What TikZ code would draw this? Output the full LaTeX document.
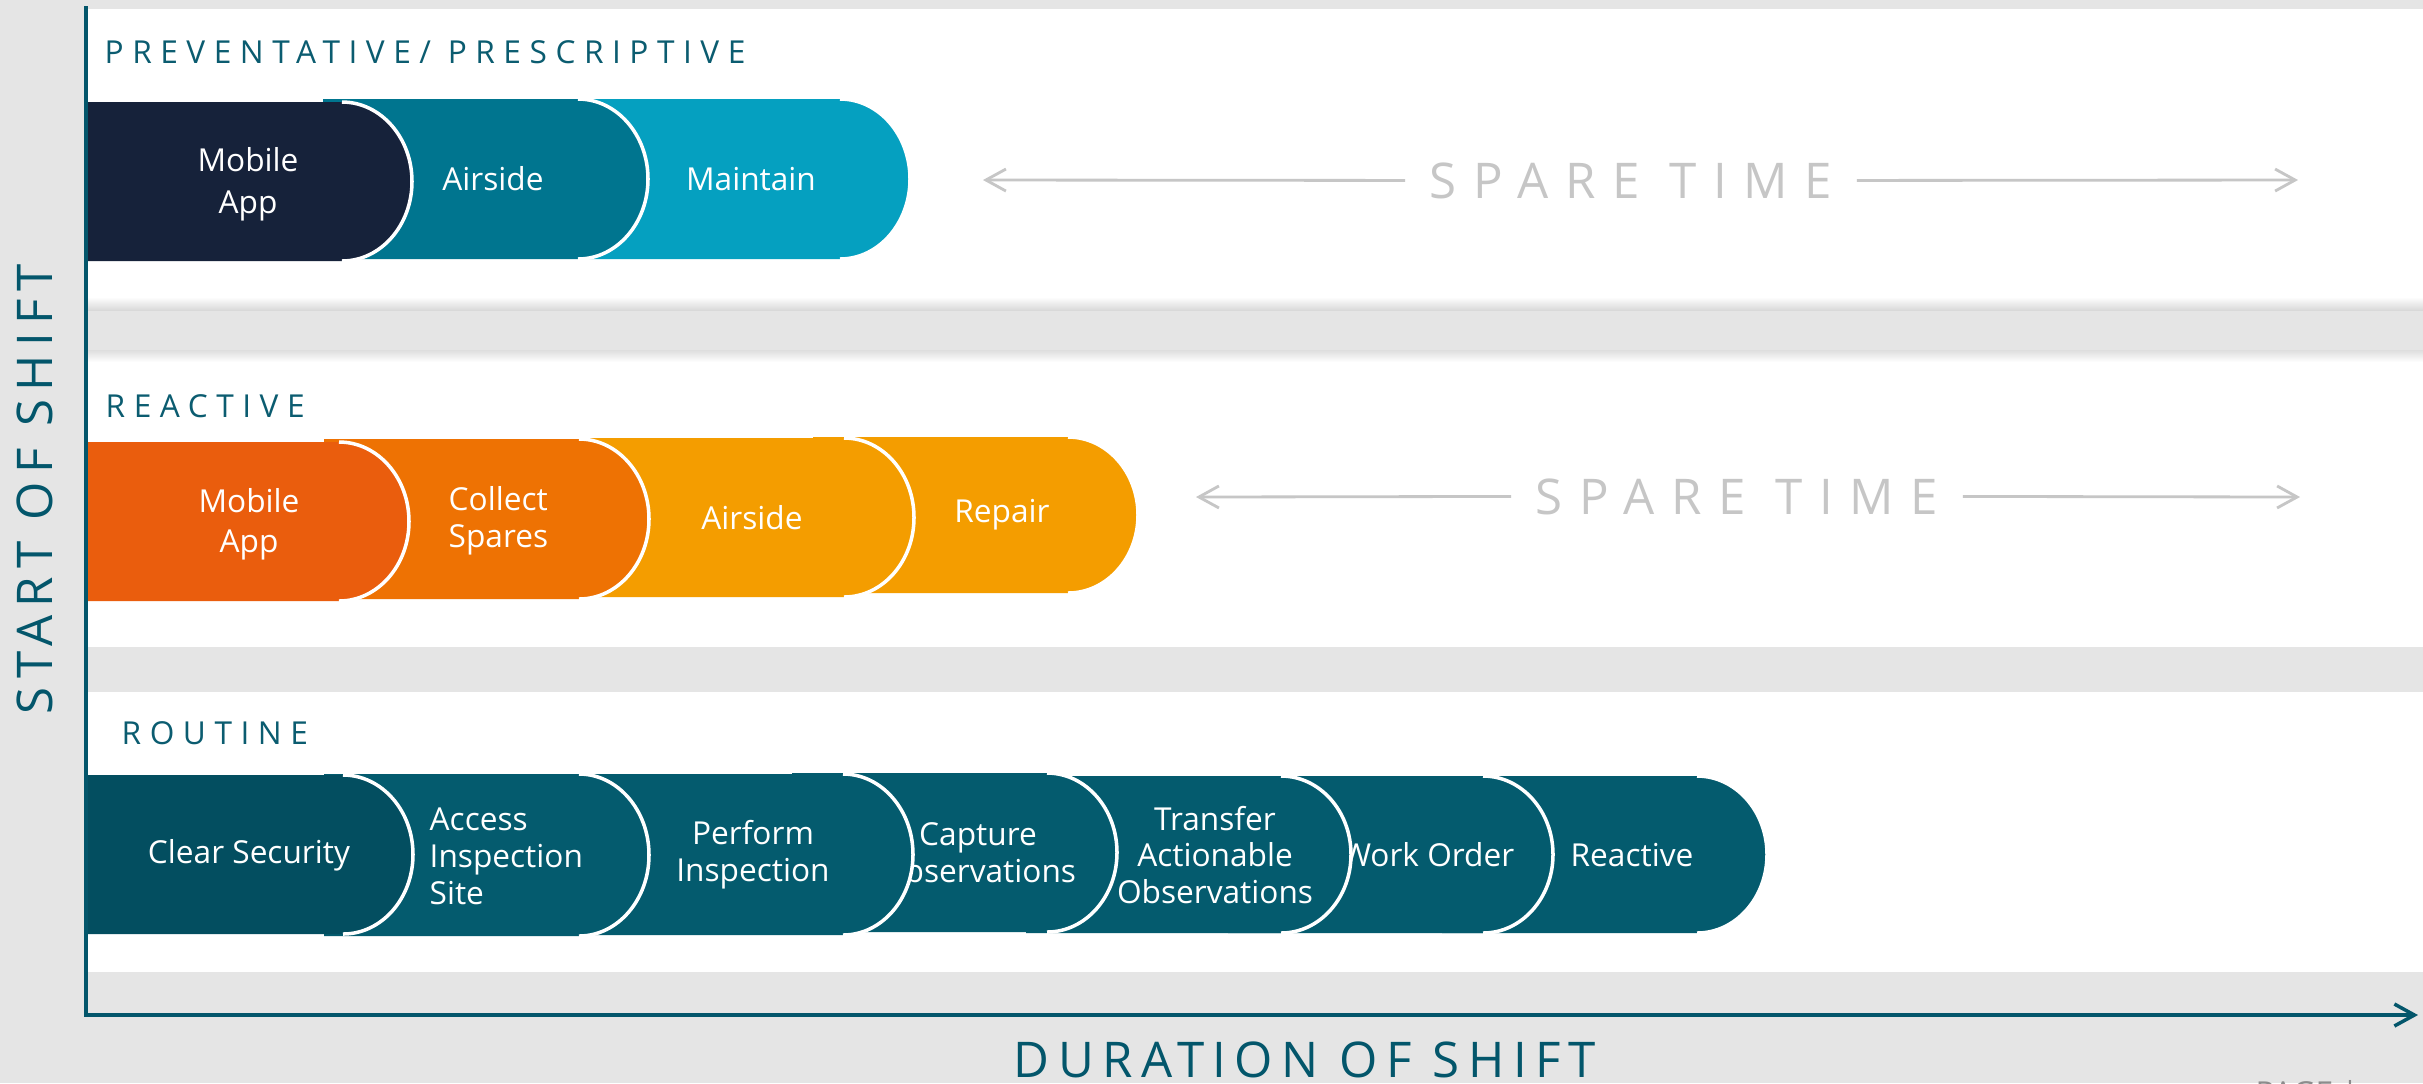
\documentclass[tikz,border=0pt]{standalone}
\usepackage{fontspec}
\setmainfont{Open Sans}
\newfontfamily\titlefont[LetterSpace=27]{Open Sans}
\newfontfamily\sparefont[LetterSpace=34]{Open Sans}
\newfontfamily\axisfont[LetterSpace=17]{Open Sans}
\usetikzlibrary{arrows.meta}

\definecolor{pagegray}{HTML}{E5E5E5}
\definecolor{axisteal}{HTML}{03566B}
\definecolor{titleteal}{HTML}{0B5C70}
\definecolor{sparegray}{HTML}{C6C6C6}
\definecolor{navy}{HTML}{16223A}
\definecolor{tealmid}{HTML}{00758F}
\definecolor{skycyan}{HTML}{05A0C0}
\definecolor{redorange}{HTML}{EA5D0D}
\definecolor{carrot}{HTML}{EE7203}
\definecolor{amber}{HTML}{F49D00}
\definecolor{deepteal}{HTML}{034E60}
\definecolor{routineteal}{HTML}{045B6E}

\tikzset{
  pilledge/.style={white, line width=1pt},
  lbl/.style={text=white, font={\fontsize{9}{10.5}\selectfont}, align=center, inner sep=0pt},
  sectitle/.style={text=titleteal, font={\fontsize{9}{11}\titlefont}, anchor=base west, inner sep=0pt},
  spare/.style={text=sparegray, font={\fontsize{14}{16}\sparefont}, anchor=base, inner xsep=2.4mm, inner ysep=0pt},
  sparearrow/.style={sparegray, line width=0.8pt, -{Straight Barb[length=2mm, width=2.2mm]}},
  axislabel/.style={text=axisteal, font={\fontsize{14}{16}\axisfont}, anchor=base, inner sep=0pt},
  axisline/.style={axisteal, line width=1pt},
}

% one stage: right end, top, bottom, fill colour
\newcommand{\pill}[4]{%
  \fill[#4] ({#1-325},#2) -- ({#1-70},#2)
    arc[start angle=-90, end angle=90, x radius=70, y radius={(#3-#2)/2}]
    -- ({#1-325},#3) -- cycle;
  \draw[pilledge] ({#1-70},#2)
    arc[start angle=-90, end angle=90, x radius=70, y radius={(#3-#2)/2}];
}

\begin{document}
\begin{tikzpicture}[x=0.1mm, y=-0.1mm]
    \useasboundingbox (0,0) rectangle (2423,1083);
    % page and white bands
    \fill[pagegray] (0,0) rectangle (2423,1083);
    \fill[white] (86,9) rectangle (2423,310);
    \fill[white] (86,350) rectangle (2423,647);
    \fill[white] (86,692) rectangle (2423,972);
    \shade[top color=white, bottom color=black!15] (86,297) rectangle (2423,310);
    \shade[top color=black!13, bottom color=white] (86,350) rectangle (2423,362);

    % section titles
    \node[sectitle] (prevtitle) at (104,63) {PREVENTATIVE/ PRESCRIPTIVE};
    \node[sectitle] (reacttitle) at (105,417) {REACTIVE};
    \node[sectitle] (routtitle) at (121,744) {ROUTINE};

    % preventative / prescriptive
    \pill{910}{99}{259}{skycyan}
    \node[lbl] (maintain) at (751,179) {Maintain};
    \pill{648}{99}{259}{tealmid}
    \node[lbl] (airprev) at (493,179) {Airside};
    \pill{412}{102}{261}{navy}
    \node[lbl] (mobprev) at (248,184) {Mobile\\[1.5pt]App};

    % reactive
    \pill{1138}{437}{593}{amber}
    \node[lbl] (repair) at (1002,515) {Repair};
    \pill{914}{438}{597}{amber}
    \node[lbl] (airreact) at (752,518) {Airside};
    \pill{649}{439}{599}{carrot}
    \node[lbl, align=left, anchor=west] (spares) at (448,521) {Collect\\Spares};
    \pill{409}{442}{601}{redorange}
    \node[lbl] (mobreact) at (249,524) {Mobile\\[1pt]App};

    % routine
    \pill{1767}{776}{933}{routineteal}
    \node[lbl] (reactive) at (1632,855) {Reactive};
    \pill{1553}{776}{933}{routineteal}
    \node[lbl] (workorder) at (1428,855) {Work Order};
    \pill{1351}{776}{933}{routineteal}
    \node[lbl] (transfer) at (1215,855) {Transfer\\Actionable\\Observations};
    \pill{1117}{773}{932}{routineteal}
    \node[lbl] (capture) at (978,853) {Capture\\Observations};
    \pill{913}{774}{935}{routineteal}
    \node[lbl] (perform) at (753,855) {Perform\\Inspection};
    \pill{649}{774}{936}{routineteal}
    \node[lbl, align=left, anchor=west] (access) at (429,856) {Access\\Inspection\\Site};
    \pill{413}{775}{934}{deepteal}
    \node[lbl] (security) at (249,855) {Clear Security};

    % spare time
    \node[spare] (spareprev) at (1631,198) {SPARE TIME};
    \coordinate (spareprevl) at (983,180);
    \coordinate (spareprevr) at (2298,180);
    \draw[sparearrow] (spareprev.west) -- (spareprevl);
    \draw[sparearrow] (spareprev.east) -- (spareprevr);
    \node[spare] (sparereact) at (1737,514) {SPARE TIME};
    \coordinate (sparereactl) at (1196,497);
    \coordinate (sparereactr) at (2300,497);
    \draw[sparearrow] (sparereact.west) -- (sparereactl);
    \draw[sparearrow] (sparereact.east) -- (sparereactr);

    % axes
    \coordinate (ytop) at (86,6);
    \coordinate (origin) at (86,1015);
    \coordinate (xend) at (2418,1015);
    \draw[axisline, -{Straight Barb[length=2mm, width=2.2mm]}] (ytop) -- (origin) -- (xend);
    \node[axislabel, rotate=90] (startlbl) at (52,489) {START OF SHIFT};
    \node[axislabel] (durlbl) at (1305,1077) {DURATION OF SHIFT};
    \node[anchor=north west, text=black!45, font={\fontsize{9}{11}\selectfont}, inner sep=0pt] (pagelbl) at (2255,1080) {PAGE |};
\end{tikzpicture}
\end{document}
